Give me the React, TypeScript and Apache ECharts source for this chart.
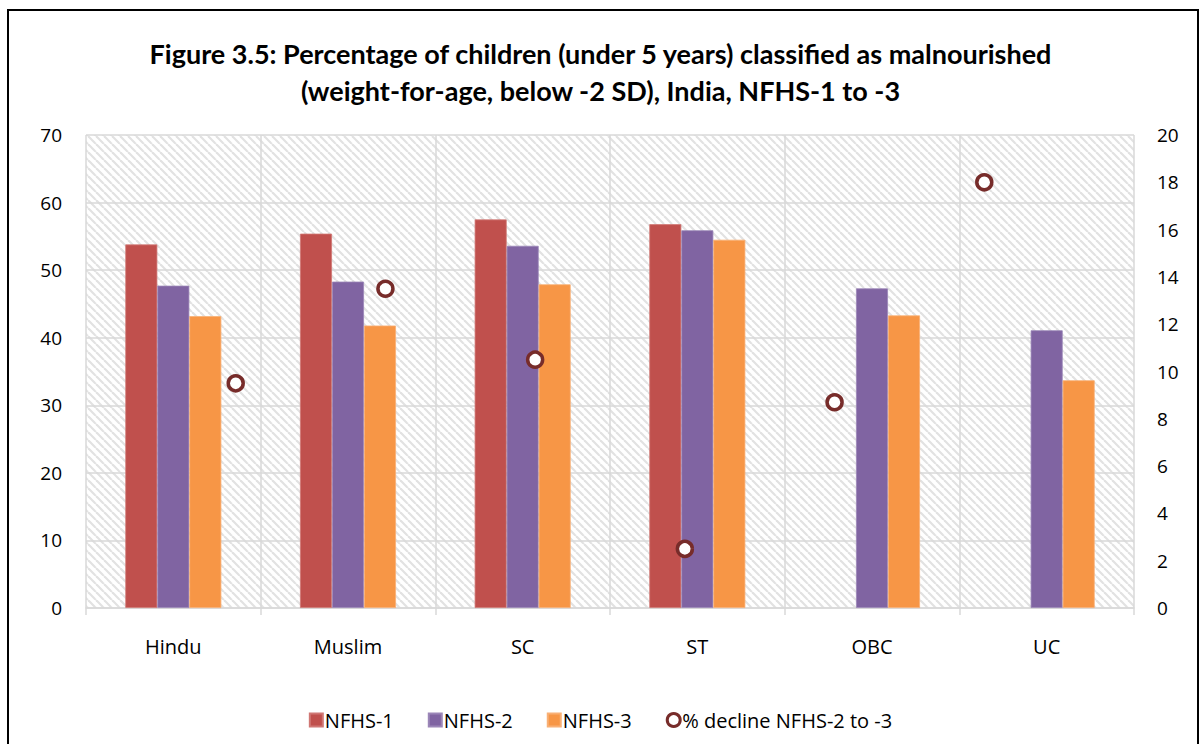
import React, { useEffect, useRef } from "react";
import * as echarts from "echarts";

const categories = ["Hindu", "Muslim", "SC", "ST", "OBC", "UC"];
const nfhs1: (number | null)[] = [53.8, 55.4, 57.5, 56.8, null, null];
const nfhs2 = [47.7, 48.3, 53.6, 55.9, 47.3, 41.1];
const nfhs3 = [43.2, 41.8, 47.9, 54.5, 43.3, 33.7];
const declinePct = [9.5, 13.5, 10.5, 2.5, 8.7, 18.0];

const FONT = "'Open Sans', 'Noto Sans', sans-serif";

function makeHatch() {
  const c = document.createElement("canvas");
  c.width = 8;
  c.height = 8;
  const ctx = c.getContext("2d")!;
  ctx.fillStyle = "#ffffff";
  ctx.fillRect(0, 0, 8, 8);
  ctx.strokeStyle = "#e2e2e2";
  ctx.lineWidth = 2.2;
  for (const off of [-8, 0, 8]) {
    ctx.beginPath();
    ctx.moveTo(off, 0);
    ctx.lineTo(off + 8, 8);
    ctx.stroke();
  }
  return c;
}

export default function App() {
  const ref = useRef<HTMLDivElement>(null);
  useEffect(() => {
    if (!ref.current) return;
    const chart = echarts.init(ref.current, null, { renderer: "svg" });
    const hatch = makeHatch();
    const option: any = {
      animation: false,
      backgroundColor: "#ffffff",
      title: {
        text:
          "Figure 3.5: Percentage of children (under 5 years) classified as malnourished\n(weight-for-age, below -2 SD), India, NFHS-1 to -3",
        left: "center",
        top: 30,
        textStyle: {
          fontFamily: "Lato, 'Open Sans', sans-serif",
          fontSize: 27,
          fontWeight: "bold",
          lineHeight: 37,
          color: "#000",
        },
      },
      graphic: [
        {
          type: "rect",
          shape: { x: 8, y: 10, width: 1190, height: 780 },
          style: { fill: "none", stroke: "#000", lineWidth: 2 },
          silent: true,
          z: 100,
        },
      ],
      grid: {
        left: 86,
        right: 67,
        top: 135,
        bottom: 136,
        show: true,
        borderWidth: 0,
        backgroundColor: {
          image: hatch,
          repeat: "repeat",
          imageWidth: 8,
          imageHeight: 8,
        },
      },
      legend: {
        top: 705,
        left: "center",
        itemWidth: 13,
        itemHeight: 13,
        itemGap: 34,
        textStyle: { fontFamily: FONT, fontSize: 20, color: "#000", padding: [0, 0, 0, -3] },
        data: [
          { name: "NFHS-1", icon: "rect" },
          { name: "NFHS-2", icon: "rect" },
          { name: "NFHS-3", icon: "rect" },
          {
            name: "% decline NFHS-2 to -3",
            icon: "circle",
            itemStyle: { color: "#fff", borderColor: "#772C2A", borderWidth: 3 },
          },
        ],
      },
      xAxis: [
        {
          type: "category",
          data: categories,
          boundaryGap: true,
          axisLine: { show: true, lineStyle: { color: "#d9d9d9", width: 1.5 } },
          axisTick: { show: true, length: 7, lineStyle: { color: "#d9d9d9", width: 1.5 } },
          splitLine: { show: true, lineStyle: { color: "#d9d9d9", width: 1.5 } },
          axisLabel: { fontFamily: FONT, fontSize: 20, color: "#000", margin: 28 },
        },
        {
          type: "value",
          min: 0,
          max: 7,
          show: false,
          position: "bottom",
        },
      ],
      yAxis: [
        {
          type: "value",
          min: 0,
          max: 70,
          interval: 10,
          axisLine: { show: false },
          axisTick: { show: false },
          splitLine: { show: true, lineStyle: { color: "#d9d9d9", width: 1.5 } },
          axisLabel: { fontFamily: FONT, fontSize: 19, color: "#000", margin: 24 },
        },
        {
          type: "value",
          min: 0,
          max: 20,
          interval: 2,
          position: "right",
          axisLine: { show: false },
          axisTick: { show: false },
          splitLine: { show: false },
          axisLabel: { fontFamily: FONT, fontSize: 19, color: "#000", margin: 23 },
        },
      ],
      series: [
        {
          name: "NFHS-1",
          type: "bar",
          data: nfhs1,
          barWidth: 32,
          barGap: "0%",
          itemStyle: { color: "#C0504D", borderColor: "#D07774", borderWidth: 0.8 },
        },
        {
          name: "NFHS-2",
          type: "bar",
          data: nfhs2,
          barWidth: 32,
          barGap: "0%",
          itemStyle: { color: "#8064A2", borderColor: "#9B86B8", borderWidth: 0.8 },
        },
        {
          name: "NFHS-3",
          type: "bar",
          data: nfhs3,
          barWidth: 32,
          barGap: "0%",
          itemStyle: { color: "#F79646", borderColor: "#F9B075", borderWidth: 0.8 },
        },
        {
          name: "% decline NFHS-2 to -3",
          type: "scatter",
          xAxisIndex: 1,
          yAxisIndex: 1,
          data: declinePct.map((v, i) => [i + 1, v]),
          symbol: "circle",
          symbolSize: 15,
          itemStyle: { color: "#ffffff", borderColor: "#772C2A", borderWidth: 3.5, opacity: 1 },
          z: 5,
        },
      ],
    };
    chart.setOption(option);
    return () => chart.dispose();
  }, []);
  return (
    <div
      ref={ref}
      style={{ position: "absolute", left: 0, top: 0, width: 1201, height: 744 }}
    />
  );
}
